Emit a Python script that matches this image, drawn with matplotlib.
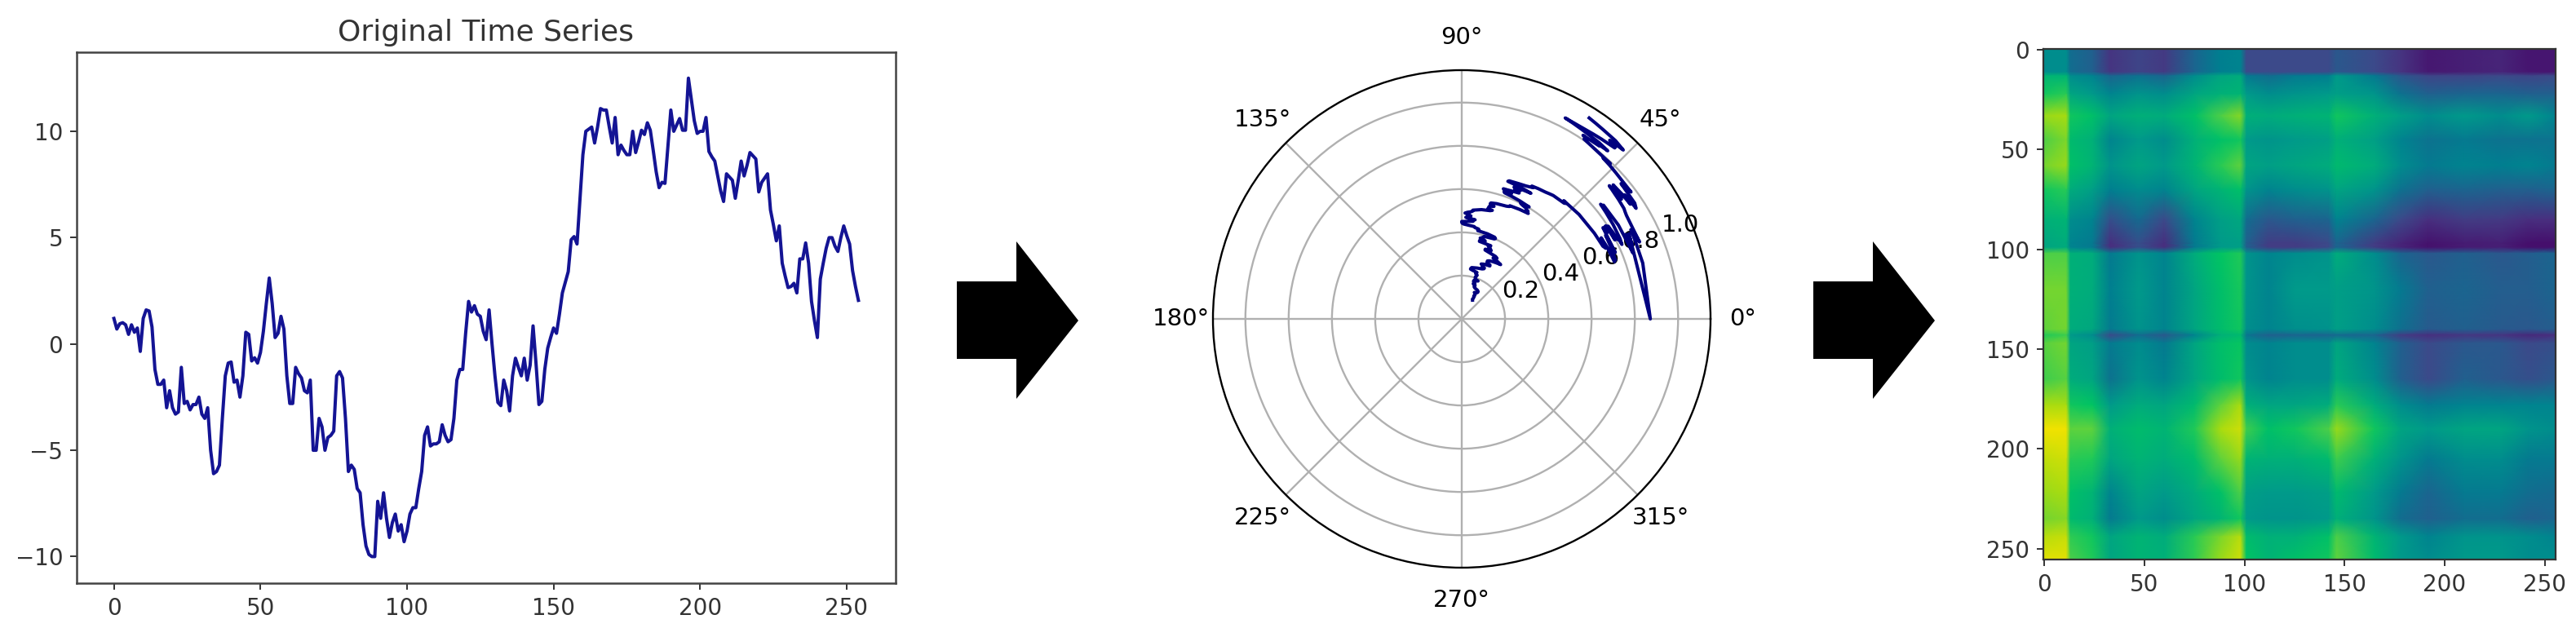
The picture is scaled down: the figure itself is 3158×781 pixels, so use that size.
import numpy as np
import matplotlib
matplotlib.use("Agg")
import matplotlib.pyplot as plt
from matplotlib.colors import LinearSegmentedColormap
from matplotlib.patches import Polygon

W, H = 3158, 781

series = [1.2, 0.7, 0.95, 1.0, 0.9, 0.45, 0.9, 0.55, 0.75, -0.35, 1.2, 1.6, 1.55, 0.8, -1.2, -1.9, -1.9, -1.7, -3.0, -2.2,
          -3.0, -3.3, -3.2, -1.1, -2.8, -2.7, -3.1, -2.85, -2.85, -2.5, -3.3, -3.5, -3.0, -5.0, -6.1, -6.0, -5.7, -3.5, -1.5, -0.9,
          -0.85, -1.8, -1.7, -2.5, -1.5, 0.55, 0.45, -0.8, -0.65, -0.9, -0.4, 0.6, 1.9, 3.1, 1.9, 0.3, 0.5, 1.3, 0.7, -1.5,
          -2.8, -2.8, -1.1, -1.4, -1.6, -2.2, -2.3, -1.7, -5.0, -5.0, -3.5, -3.9, -5.0, -4.4, -4.3, -4.1, -1.5, -1.3, -1.6, -3.5,
          -6.0, -5.7, -5.9, -6.8, -7.0, -8.5, -9.5, -9.9, -10.0, -10.0, -7.4, -8.2, -7.0, -8.2, -9.1, -8.4, -8.0, -8.8, -8.5, -9.3,
          -8.8, -8.0, -7.7, -7.7, -6.8, -6.0, -4.3, -3.9, -4.8, -4.7, -4.7, -4.6, -3.8, -4.3, -4.6, -4.5, -3.5, -1.7, -1.2, -1.2,
          0.5, 2.0, 1.5, 1.8, 1.4, 1.3, 0.6, 0.2, 1.6, 0.0, -1.5, -2.75, -2.9, -1.7, -2.2, -3.15, -1.5, -0.67, -1.1, -1.5,
          -0.67, -1.7, -1.0, 0.85, -0.9, -2.85, -2.7, -1.2, -0.2, 0.3, 0.75, 0.5, 1.4, 2.4, 2.9, 3.4, 4.9, 5.05, 4.7, 6.8,
          8.9, 10.0, 10.1, 10.2, 9.45, 10.2, 11.07, 11.0, 11.0, 10.2, 9.45, 10.65, 8.9, 9.35, 9.1, 8.9, 8.9, 10.0, 9.0, 9.5,
          10.05, 9.85, 10.4, 10.05, 9.1, 8.1, 7.35, 7.6, 7.55, 9.3, 11.0, 10.0, 10.3, 10.6, 10.05, 10.05, 12.5, 11.5, 10.5, 9.9,
          10.0, 10.0, 10.65, 9.05, 8.8, 8.6, 7.9, 7.2, 6.7, 8.0, 7.85, 7.7, 6.85, 7.7, 8.6, 7.9, 8.4, 9.0, 8.85, 8.7,
          7.15, 7.6, 7.8, 8.0, 6.3, 5.6, 4.85, 5.55, 3.8, 3.2, 2.65, 2.7, 2.85, 2.4, 4.0, 4.0, 4.75, 3.8, 2.0, 1.1,
          0.3, 3.05, 3.8, 4.5, 5.0, 5.0, 4.6, 4.35, 5.0, 5.55, 5.1, 4.7, 3.45, 2.7, 2.05]
x_ticks = [0, 50, 100, 150, 200, 250]
y_ticks = [-10, -5, 0, 5, 10]
r_ticks = [0.2, 0.4, 0.6, 0.8, 1.0]
theta_ticks = [0, 45, 90, 135, 180, 225, 270, 315]
heat_ticks_x = [0, 50, 100, 150, 200, 250]
heat_ticks_y = [0, 50, 100, 150, 200, 250]

heat_cols = [-0.5, 11, 13, 24, 33, 47, 60, 75, 88, 98, 101, 112, 125, 142, 146, 165, 178, 192, 210, 228, 242, 255.5]
heat_rows = [-0.5, 11, 13, 22, 33, 45, 58, 70, 85, 97, 99, 102, 120, 140, 143, 147, 165, 178, 190, 205, 222, 235, 244, 255.5]
heat_values = [
    [.45, .45, .33, .28, .12, .18, .14, .30, .40, .42, .20, .20, .20, .20, .25, .20, .12, .03, .05, .07, .02, .02],
    [.45, .45, .33, .28, .12, .18, .14, .30, .40, .42, .20, .20, .20, .20, .25, .20, .12, .03, .05, .07, .02, .02],
    [.62, .62, .45, .42, .30, .35, .30, .45, .55, .58, .38, .33, .38, .40, .50, .38, .25, .18, .18, .20, .18, .20],
    [.72, .75, .55, .50, .42, .48, .45, .55, .60, .62, .50, .45, .48, .50, .52, .48, .35, .28, .30, .30, .28, .28],
    [.88, .90, .72, .68, .55, .60, .58, .68, .80, .86, .60, .58, .60, .62, .72, .60, .52, .45, .50, .45, .50, .42],
    [.80, .85, .65, .60, .42, .50, .45, .60, .68, .72, .50, .48, .50, .52, .60, .52, .42, .35, .38, .35, .35, .35],
    [.84, .88, .68, .62, .48, .55, .50, .62, .75, .82, .55, .52, .55, .58, .65, .58, .45, .38, .42, .40, .42, .38],
    [.72, .75, .58, .52, .40, .45, .42, .55, .62, .68, .48, .42, .45, .48, .55, .48, .35, .28, .30, .28, .28, .30],
    [.60, .62, .45, .42, .22, .32, .20, .42, .52, .56, .33, .25, .28, .30, .42, .30, .20, .10, .15, .14, .10, .10],
    [.55, .58, .42, .38, .10, .22, .10, .38, .50, .52, .28, .15, .15, .20, .30, .15, .07, .01, .04, .05, .00, .00],
    [.55, .58, .42, .38, .10, .22, .10, .38, .50, .52, .28, .15, .15, .20, .30, .15, .07, .01, .04, .05, .00, .00],
    [.80, .80, .60, .58, .38, .48, .42, .58, .70, .74, .48, .42, .45, .48, .58, .45, .30, .25, .28, .25, .27, .30],
    [.84, .84, .60, .58, .40, .50, .42, .55, .67, .73, .48, .42, .50, .50, .52, .48, .38, .28, .30, .27, .27, .30],
    [.82, .84, .58, .56, .38, .48, .42, .55, .66, .72, .46, .42, .46, .47, .52, .45, .34, .26, .28, .26, .25, .27],
    [.74, .78, .50, .45, .20, .33, .25, .42, .60, .65, .36, .28, .30, .30, .32, .30, .15, .10, .13, .12, .08, .10],
    [.81, .84, .55, .52, .38, .45, .38, .55, .67, .71, .45, .42, .45, .45, .55, .42, .28, .20, .25, .25, .20, .22],
    [.78, .81, .58, .55, .35, .48, .42, .55, .66, .72, .48, .42, .45, .45, .58, .45, .28, .20, .28, .25, .22, .25],
    [.90, .90, .72, .70, .50, .58, .55, .65, .82, .90, .60, .55, .55, .58, .75, .58, .45, .38, .42, .42, .42, .42],
    [1.0, 1.0, .82, .82, .60, .66, .62, .74, .90, .95, .78, .68, .72, .80, .88, .72, .55, .50, .55, .55, .48, .45],
    [.93, .95, .75, .74, .55, .62, .58, .66, .82, .88, .62, .60, .60, .65, .78, .60, .48, .38, .45, .45, .38, .38],
    [.88, .90, .68, .62, .42, .55, .50, .58, .68, .80, .52, .50, .50, .52, .65, .50, .38, .30, .38, .38, .33, .32],
    [.84, .86, .65, .60, .38, .50, .45, .55, .62, .72, .50, .48, .48, .50, .60, .48, .33, .28, .33, .33, .28, .30],
    [.92, .94, .76, .72, .55, .62, .58, .75, .85, .92, .66, .60, .60, .68, .80, .62, .50, .42, .48, .48, .45, .42],
    [.98, .98, .80, .74, .55, .62, .60, .76, .88, .95, .70, .62, .68, .72, .82, .65, .50, .45, .50, .50, .45, .45],
]


def box(left, top, right, bottom):
    return [left / W, 1 - bottom / H, (right - left) / W, (bottom - top) / H]


fig = plt.figure(figsize=(W / 100, H / 100), dpi=100)

# left panel
ax = fig.add_axes(box(94, 64, 1098, 715))
ax.plot(range(len(series)), series, color="#00008b", lw=2.9, alpha=0.92)
ax.set_xlim(-12.7, 266.7)
ax.set_ylim(-11.25, 13.72)
ax.set_xticks(x_ticks)
ax.set_yticks(y_ticks)
ax.tick_params(labelsize=20, length=6, width=1.4, color="#333333", labelcolor="#333333", pad=6)
for s in ax.spines.values():
    s.set_linewidth(1.8)
    s.set_color("#444444")
ax.set_title("Original Time Series", fontsize=26, color="#333333", pad=10)

# middle panel, the series in polar form
norm = (np.array(series) - min(series)) / (max(series) - min(series))
theta = np.arccos(norm)
radius = 0.1 + np.arange(len(series)) / (len(series) - 1)
pol = fig.add_axes(box(1792 - 305, 391 - 305, 1792 + 305, 391 + 305), projection="polar")
pol.plot(theta, radius, color="#00007f", lw=2.9)
pol.set_rlim(0, 1.15)
pol.set_rticks(r_ticks)
pol.set_rlabel_position(22.5)
pol.set_thetagrids(theta_ticks, [str(t) + "°" for t in theta_ticks])
pol.tick_params(labelsize=21)
pol.tick_params(axis="x", pad=18)
pol.grid(color="#b0b0b0", lw=1.7)
pol.spines["polar"].set_linewidth(1.7)

# right panel
colors = ["#450f6c", "#48307f", "#3c4a8a", "#1a668f", "#007f90", "#009a8a", "#00b078",
          "#00c464", "#4ccf48", "#a8dc10", "#f0e200"]
cmap = LinearSegmentedColormap.from_list("field", colors)
hm = fig.add_axes(box(2505, 60, 3133, 686))
hm.pcolormesh(heat_cols, heat_rows, np.array(heat_values), cmap=cmap, vmin=0, vmax=1, shading="gouraud")
hm.set_xlim(-0.5, 255.5)
hm.set_ylim(255.5, -0.5)
hm.set_aspect("auto")
hm.set_xticks(heat_ticks_x)
hm.set_yticks(heat_ticks_y)
hm.tick_params(labelsize=20, length=6, width=1.4, color="#333333", labelcolor="#333333", pad=6)
for s in hm.spines.values():
    s.set_linewidth(1.6)
    s.set_color("#333333")

# arrows between panels
for x0 in [1173, 2223]:
    pts = [(x0, 345), (x0 + 73, 345), (x0 + 73, 296), (x0 + 149, 393),
           (x0 + 73, 489), (x0 + 73, 440), (x0, 440)]
    fig.patches.append(Polygon([(px / W, 1 - py / H) for px, py in pts], closed=True,
                               transform=fig.transFigure, facecolor="black", edgecolor="none"))

fig.savefig("out.png", dpi=100)
